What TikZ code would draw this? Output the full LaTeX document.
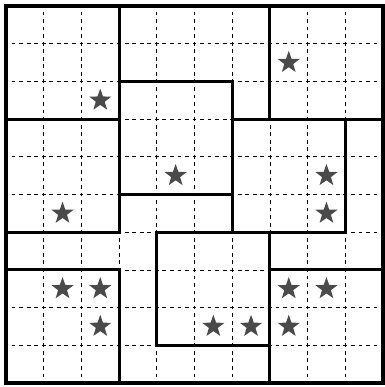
\documentclass[tikz,border=0pt]{standalone}
\usetikzlibrary{shapes.geometric}
\definecolor{StarClr}{rgb}{0.29,0.29,0.29}

\tikzset{
  gridline/.style={line width=0.6pt,dash pattern=on 0.1cm off 0.1cm,dash phase=0.05cm},
  regionline/.style={line width=2.3pt,line cap=rect},
  starmark/.style={star,star points=5,star point ratio=2.5,fill=StarClr,inner sep=0pt,minimum size=0.62cm}
}

\begin{document}
\begin{tikzpicture}[scale=1]
\useasboundingbox (-0.159,-0.106) rectangle (10.027,10.159);

% dashed grid
\foreach \i in {1,...,9}{
  \draw[gridline] (\i,0) -- (\i,10);
  \draw[gridline] (0,\i) -- (10,\i);
}

% regions
\draw[regionline] (0,7) rectangle (3,10);
\draw[regionline] (7,7) rectangle (10,10);
\draw[regionline] (3,5) rectangle (6,8);
\draw[regionline] (0,4) rectangle (3,7);
\draw[regionline] (6,4) rectangle (9,7);
\draw[regionline] (0,0) rectangle (3,3);
\draw[regionline] (4,1) rectangle (7,4);
\draw[regionline] (7,0) rectangle (10,3);

% outer frame
\draw[regionline] (0,0) rectangle (10,10);

% stars
\foreach \x/\y [count=\n] in {2.5/7.5,7.5/8.5,4.5/5.5,1.5/4.5,8.5/5.5,8.5/4.5,
  1.5/2.5,2.5/2.5,2.5/1.5,5.5/1.5,6.5/1.5,7.5/2.5,8.5/2.5,7.5/1.5}
  \node[starmark] (s\n) at (\x,\y) {};

\end{tikzpicture}
\end{document}
